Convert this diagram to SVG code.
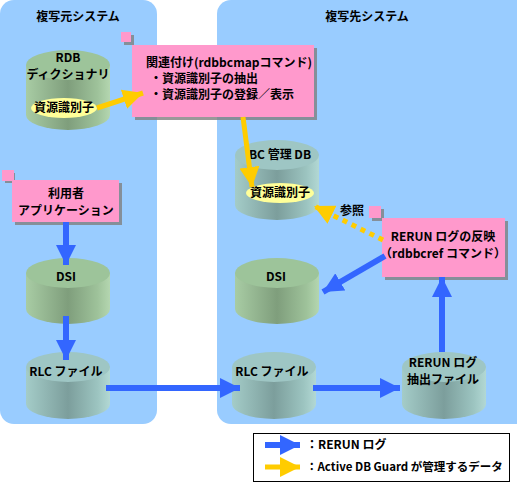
<svg xmlns="http://www.w3.org/2000/svg" width="517" height="486" viewBox="0 0 517 486">
<style>
text{font-family:"Noto Sans CJK JP","Liberation Sans",sans-serif;font-weight:bold;font-size:12px;fill:#000;text-anchor:middle}
.panel{fill:#99ccff}
.pink{fill:#ff99cc}
.shadow{fill:#808080;opacity:0.8}
.green-top{fill:#9dc49a}
.teal-top{fill:#9ec6c4}
.blue{stroke:#3366ff;stroke-width:6;fill:none}
.yel{stroke:#ffcc00;stroke-width:5;fill:none}
.yeldot{stroke:#ffcc00;stroke-width:5;fill:none;stroke-dasharray:5,5}
.idell{fill:#ffff99}
</style>
<defs>
<linearGradient id="gGreen" x1="0" y1="0" x2="1" y2="0">
<stop offset="0" stop-color="#a8cca4"/><stop offset="0.5" stop-color="#7f9e7c"/><stop offset="0.85" stop-color="#9ec29a"/><stop offset="1" stop-color="#b4d6b0"/>
</linearGradient>
<linearGradient id="gTeal" x1="0" y1="0" x2="1" y2="0">
<stop offset="0" stop-color="#a4ccc8"/><stop offset="0.5" stop-color="#7c9e9c"/><stop offset="0.85" stop-color="#9cc4c0"/><stop offset="1" stop-color="#b2d8d4"/>
</linearGradient>
<marker id="hb" markerUnits="userSpaceOnUse" markerWidth="20" markerHeight="20" refX="20" refY="10" orient="auto"><path d="M0,0 L20,10 L0,20 z" fill="#3366ff"/></marker>
<marker id="hy" markerUnits="userSpaceOnUse" markerWidth="20" markerHeight="20" refX="20" refY="10" orient="auto"><path d="M0,0 L20,10 L0,20 z" fill="#ffcc00"/></marker>
</defs>

<g id="panel-src"><rect class="panel" x="0" y="0" width="157" height="424" rx="14"/><text x="78" y="21">複写元システム</text></g>
<g id="panel-dst"><rect class="panel" x="217" y="0" width="315" height="424" rx="14"/><text x="367" y="21">複写先システム</text></g>

<g id="rdb">
<path d="M26,65 V115 A42,15 0 0 0 110,115 V65 z" fill="url(#gGreen)"/>
<ellipse class="green-top" cx="68" cy="65" rx="42" ry="15"/>
<text x="68" y="62">RDB</text><text x="68" y="79">ディクショナリ</text>
<ellipse class="idell" cx="64" cy="108" rx="33" ry="10"/><text x="64" y="112">資源識別子</text>
</g>

<g id="bcdb">
<path d="M235,155 V205 A42,15 0 0 0 319,205 V155 z" fill="url(#gTeal)"/>
<ellipse class="teal-top" cx="277" cy="155" rx="42" ry="15"/>
<text x="280" y="159">BC 管理 DB</text>
<ellipse class="idell" cx="280" cy="193" rx="34" ry="10"/><text x="280" y="197">資源識別子</text>
</g>

<g id="dsi-src">
<path d="M26,273 V309 A42,15 0 0 0 110,309 V273 z" fill="url(#gGreen)"/>
<ellipse class="green-top" cx="68" cy="273" rx="42" ry="15"/>
<text x="66" y="281">DSI</text>
</g>

<g id="dsi-dst">
<path d="M235,273 V309 A42,15 0 0 0 319,309 V273 z" fill="url(#gGreen)"/>
<ellipse class="green-top" cx="277" cy="273" rx="42" ry="15"/>
<text x="276" y="281">DSI</text>
</g>

<g id="rlc-src">
<path d="M26,367 V404 A42,15 0 0 0 110,404 V367 z" fill="url(#gTeal)"/>
<ellipse class="teal-top" cx="68" cy="367" rx="42" ry="15"/>
<text x="66" y="376">RLC ファイル</text>
</g>

<g id="rlc-dst">
<path d="M232,367 V404 A42,15 0 0 0 316,404 V367 z" fill="url(#gTeal)"/>
<ellipse class="teal-top" cx="274" cy="367" rx="42" ry="15"/>
<text x="272" y="376">RLC ファイル</text>
</g>

<g id="rerun-file">
<path d="M402,367 V404 A42,15 0 0 0 486,404 V367 z" fill="url(#gTeal)"/>
<ellipse class="teal-top" cx="444" cy="367" rx="42" ry="15"/>
<text x="443" y="367">RERUN ログ</text><text x="443" y="384">抽出ファイル</text>
</g>

<g id="box-map">
<rect class="shadow" x="124" y="35" width="10" height="10"/><rect class="pink" x="121" y="32" width="10" height="10"/>
<rect class="shadow" x="135" y="48" width="182" height="72"/>
<rect class="pink" x="132" y="45" width="182" height="72"/>
<text x="146" y="67" style="text-anchor:start">関連付け(rdbbcmapコマンド)</text>
<text x="150" y="83" style="text-anchor:start">・資源識別子の抽出</text>
<text x="150" y="99" style="text-anchor:start">・資源識別子の登録／表示</text>
</g>

<g id="box-app">
<rect class="shadow" x="5" y="173" width="10" height="10"/><rect class="pink" x="2" y="170" width="12" height="11"/>
<rect class="shadow" x="15" y="183" width="107" height="42"/>
<rect class="pink" x="12" y="180" width="107" height="42"/>
<text x="66" y="198">利用者</text><text x="66" y="215">アプリケーション</text>
</g>

<g id="box-rerun">
<rect class="shadow" x="372" y="209" width="12" height="12"/><rect class="pink" x="369" y="206" width="12" height="12"/>
<rect class="shadow" x="385" y="221" width="123" height="59"/>
<rect class="pink" x="382" y="218" width="123" height="59"/>
<text x="443" y="241">RERUN ログの反映</text><text x="443" y="258">（rdbbcref コマンド）</text>
</g>

<g id="connectors">
<line class="yel" x1="97" y1="108" x2="143" y2="93" marker-end="url(#hy)"/>
<line class="yel" x1="243" y1="117" x2="252" y2="187" marker-end="url(#hy)"/>
<line class="yeldot" x1="383" y1="240" x2="314" y2="206" marker-end="url(#hy)"/>
<line class="blue" x1="66" y1="222" x2="66" y2="265" marker-end="url(#hb)"/>
<line class="blue" x1="66" y1="316" x2="66" y2="360" marker-end="url(#hb)"/>
<line class="blue" x1="106" y1="388" x2="240" y2="388" marker-end="url(#hb)"/>
<line class="blue" x1="313" y1="388" x2="400" y2="388" marker-end="url(#hb)"/>
<line class="blue" x1="442" y1="352" x2="442" y2="277" marker-end="url(#hb)"/>
<line class="blue" x1="385" y1="256" x2="323" y2="292" marker-end="url(#hb)"/>
<text x="352" y="215">参照</text>
</g>

<g id="legend">
<rect x="253.5" y="433.5" width="256" height="48" fill="#fff" stroke="#000" stroke-width="1"/>
<line class="blue" x1="265" y1="445" x2="300" y2="445" marker-end="url(#hb)"/>
<line class="yel" x1="265" y1="467" x2="300" y2="467" marker-end="url(#hy)"/>
<text x="306" y="449" style="text-anchor:start">：RERUN ログ</text>
<text x="306" y="471" style="text-anchor:start;font-size:11.5px">：Active DB Guard が管理するデータ</text>
</g>
</svg>
